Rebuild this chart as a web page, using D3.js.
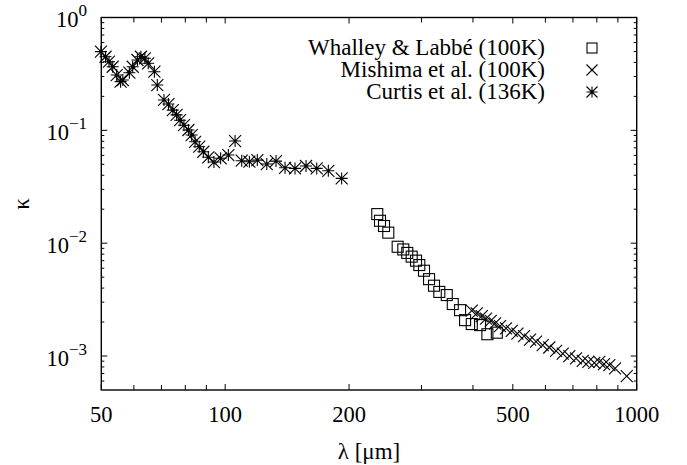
<!DOCTYPE html>
<html lang="en">
<head>
<meta charset="utf-8">
<script src="https://cdn.jsdelivr.net/npm/d3@7"></script>
<style>
  html, body { margin: 0; padding: 0; background: #fff; }
  #wrap { position: relative; width: 687px; height: 465px; overflow: hidden; }
  #wrap svg { position: absolute; left: 0; top: 0; }
  .lbl { position: absolute; white-space: nowrap; color: #000; font-family: "Liberation Serif", monospace; }
</style>
</head>
<body>
<div id="wrap"><svg id="chart" width="687" height="465"></svg></div>
<script>
// ---- data (λ in µm, κ) ----
const whalleyLambda = [234.2, 237.8, 243.2, 249.1, 262.5, 270.9, 277.0, 283.9, 290.9, 296.3, 304.2, 312.9, 321.7, 331.4, 345.5, 357.3, 372.2, 382.8, 397.4, 416.3, 433.7, 457.2];
const whalleyKappa  = [0.0181, 0.0158, 0.0142, 0.0124, 0.0093, 0.0088, 0.0082, 0.0076, 0.0070, 0.0064, 0.0057, 0.0048, 0.0042, 0.0037, 0.00347, 0.00289, 0.00255, 0.00208, 0.00192, 0.00188, 0.00156, 0.00161];

const mishimaLambda = [397.4, 408.7, 420.3, 430.5, 441.9, 452.6, 465.4, 481.3, 497.0, 512.9, 532.5, 550.7, 569.5, 590.9, 613.2, 636.7, 661.0, 686.0, 712.2, 739.4, 762.9, 788.9, 811.3, 832.9, 858.0, 886.0, 945.7];
const mishimaKappa  = [0.00252, 0.00239, 0.00226, 0.00215, 0.00205, 0.00195, 0.00184, 0.00176, 0.00167, 0.00158, 0.00150, 0.00140, 0.00134, 0.00125, 0.00119, 0.00111, 0.00105, 0.00100, 0.000953, 0.000906, 0.000889, 0.000871, 0.000889, 0.000848, 0.000830, 0.000776, 0.000664];

const curtisLambda = [49.9, 51.2, 52.2, 53.3, 54.5, 55.7, 56.4, 58.5, 59.6, 61.2, 62.4, 63.8, 65.0, 67.3, 68.4, 71.0, 72.8, 74.6, 76.2, 77.7, 79.4, 81.4, 82.9, 84.5, 86.5, 88.5, 91.0, 93.9, 97.5, 101.8, 105.7, 109.7, 114.5, 119.7, 126.2, 132.9, 139.8, 147.8, 157.2, 166.9, 178.1, 191.9];
const curtisKappa  = [0.498, 0.449, 0.406, 0.366, 0.309, 0.270, 0.279, 0.324, 0.366, 0.420, 0.449, 0.435, 0.393, 0.331, 0.252, 0.186, 0.171, 0.151, 0.137, 0.123, 0.111, 0.1007, 0.0908, 0.0792, 0.0716, 0.0646, 0.0577, 0.0524, 0.0565, 0.0604, 0.0804, 0.0538, 0.0527, 0.0545, 0.0503, 0.0534, 0.0466, 0.0460, 0.0483, 0.0460, 0.0438, 0.0375];

const xMajorTicks = [50, 100, 200, 500, 1000];
const xMinorTicks = [60, 70, 80, 90, 300, 400, 600, 700, 800, 900];
const yMajorTicks = [1, 0.1, 0.01, 0.001];
const yExponents  = ["0", "\u22121", "\u22122", "\u22123"];
const yMinorTicks = [0.9,0.8,0.7,0.6,0.5,0.4,0.3,0.2, 0.09,0.08,0.07,0.06,0.05,0.04,0.03,0.02, 0.009,0.008,0.007,0.006,0.005,0.004,0.003,0.002, 0.0009,0.0008,0.0007,0.0006];

const seriesNames = ["Whalley & Labbé (100K)", "Mishima et al. (100K)", "Curtis et al. (136K)"];

// ---- layout ----
const FONT = '"Liberation Serif", monospace';
const W = 687;
const L = 101.3, R = 636.7, T = 17.5, B = 390;
const svg = d3.select("#chart");
const wrap = d3.select("#wrap");
const x = d3.scaleLog().domain([50, 1000]).range([L, R]);
const y = d3.scaleLog().domain([5e-4, 1]).range([B, T]);

// HTML label placed by its baseline (Liberation Serif: baseline ≈ 0.8375em below line-box top when line-height = 1em)
function label(text, px, baseline, size, align) {
  const s = wrap.append("span").attr("class", "lbl")
    .style("font-size", size + "px").style("line-height", size + "px")
    .style("top", (baseline - 0.8375 * size) + "px");
  if (align === "middle") s.style("left", px + "px").style("transform", "translateX(-50%)");
  else if (align === "end") s.style("right", (W - px) + "px");
  else s.style("left", px + "px");
  if (text !== null) s.text(text);
  return s;
}

// symbols
function square(g, cx, cy, s) {
  g.append("rect").attr("x", cx - s/2).attr("y", cy - s/2).attr("width", s).attr("height", s)
    .attr("fill", "none").attr("stroke", "#000").attr("stroke-width", 1.1);
}
function cross(g, cx, cy, s) {
  const h = s/2;
  g.append("path").attr("d", `M${cx-h},${cy-h}L${cx+h},${cy+h}M${cx-h},${cy+h}L${cx+h},${cy-h}`)
    .attr("stroke", "#000").attr("stroke-width", 1.1).attr("fill", "none");
}
function star(g, cx, cy, s) {
  const h = s/2;
  g.append("path").attr("d", `M${cx-h},${cy-h}L${cx+h},${cy+h}M${cx-h},${cy+h}L${cx+h},${cy-h}M${cx-h},${cy}L${cx+h},${cy}M${cx},${cy-h}L${cx},${cy+h}`)
    .attr("stroke", "#000").attr("stroke-width", 1.1).attr("fill", "none");
}

// ---- ticks ----
const tg = svg.append("g").attr("stroke", "#000").attr("stroke-width", 1);
xMajorTicks.forEach(v => {
  tg.append("line").attr("x1", x(v)).attr("x2", x(v)).attr("y1", B).attr("y2", B - 6);
  tg.append("line").attr("x1", x(v)).attr("x2", x(v)).attr("y1", T).attr("y2", T + 6);
});
xMinorTicks.forEach(v => {
  tg.append("line").attr("x1", x(v)).attr("x2", x(v)).attr("y1", B).attr("y2", B - 5);
  tg.append("line").attr("x1", x(v)).attr("x2", x(v)).attr("y1", T).attr("y2", T + 5);
});
yMajorTicks.forEach(v => {
  tg.append("line").attr("y1", y(v)).attr("y2", y(v)).attr("x1", L).attr("x2", L + 6);
  tg.append("line").attr("y1", y(v)).attr("y2", y(v)).attr("x1", R).attr("x2", R - 6);
});
yMinorTicks.forEach(v => {
  tg.append("line").attr("y1", y(v)).attr("y2", y(v)).attr("x1", L).attr("x2", L + 3);
  tg.append("line").attr("y1", y(v)).attr("y2", y(v)).attr("x1", R).attr("x2", R - 3);
});

// frame
svg.append("rect").attr("x", L).attr("y", T).attr("width", R - L).attr("height", B - T)
  .attr("fill", "none").attr("stroke", "#000").attr("stroke-width", 1.4);

// ---- marks ----
const mg = svg.append("g");
whalleyLambda.forEach((l, i) => square(mg, x(l), y(whalleyKappa[i]), 11));
mishimaLambda.forEach((l, i) => cross(mg, x(l), y(mishimaKappa[i]), 12));
curtisLambda.forEach((l, i) => star(mg, x(l), y(curtisKappa[i]), 12));

// ---- legend ----
const legY = [48, 70, 92];
const symX = 592;
const legFns = [square, cross, star];
seriesNames.forEach((n, i) => {
  svg.append("text").style("font-family", FONT).attr("font-size", 23).attr("x", 545).attr("y", legY[i] + 7)
    .attr("text-anchor", "end").text(n);
  legFns[i](svg, symX, legY[i], i === 0 ? 10 : 11);
});

// ---- tick labels and titles (HTML text) ----
xMajorTicks.forEach(v => label(String(v), x(v), B + 33, 22.5, "middle"));
yMajorTicks.forEach((v, i) => {
  const s = label(null, 87, y(v) + 10.5, 22.5, "end");
  s.append("span").text("10");
  s.append("span").style("font-size", "17px").style("line-height", "17px")
    .style("position", "relative").style("top", "-11px").text(yExponents[i]);
});
label("λ [μm]", (L + R) / 2, 459, 23, "middle");
wrap.append("span").attr("class", "lbl")
  .style("font-size", "23px").style("line-height", "23px")
  .style("left", "21px").style("top", "204px")
  .style("transform", "translate(-50%,-50%) rotate(-90deg)")
  .text("κ");
</script>
</body>
</html>
